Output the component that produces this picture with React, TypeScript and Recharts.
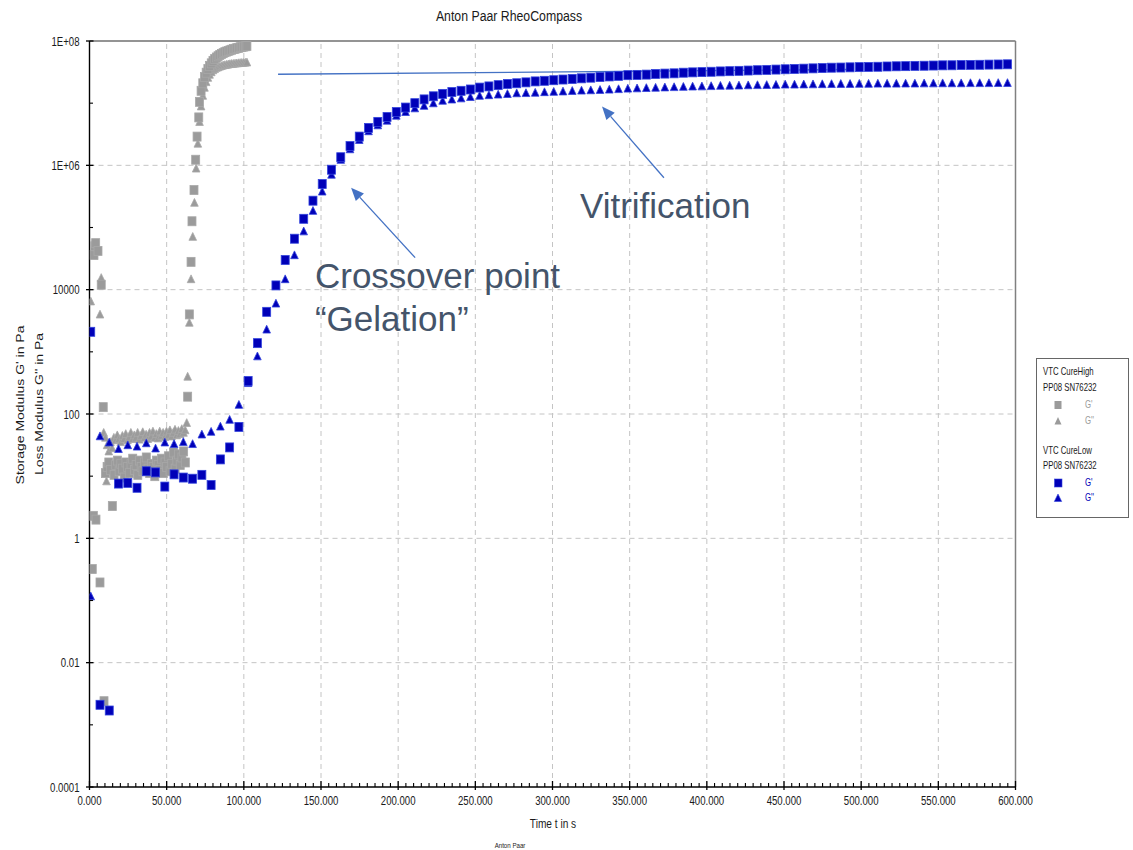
import React from 'react';
import { ScatterChart, Scatter, XAxis, YAxis, ReferenceLine, ReferenceDot } from 'recharts';

const FONT = '"Liberation Sans", Arial, sans-serif';
const BLUE = '#0000b8';
const BLUE_EDGE = '#3344dd';
const GRAY = '#9b9b9b';
const ARROW = '#4472c4';
const NOTE = '#44546a';

// ---- axis ticks ----
const xMajorTicks = [0, 50, 100, 150, 200, 250, 300, 350, 400, 450, 500, 550, 600];
const xTicks = Array.from({ length: 121 }, (_, i) => i * 5);
const yTicks = [1e-4, 1e-3, 1e-2, 1e-1, 1, 10, 100, 1e3, 1e4, 1e5, 1e6, 1e7, 1e8];
const yMajorTicks = [1e-4, 1e-2, 1, 100, 1e4, 1e6, 1e8];
const yTickLabels = ['0.0001', '0.01', '1', '100', '10000', '1E+06', '1E+08'];

// ---- VTC CureLow (blue) ----
const blueTime = [
  0.8, 6.8, 12.8, 18.8, 24.8, 30.8, 36.8, 42.8, 48.8, 54.8,
  60.8, 66.8, 72.8, 78.8, 84.8, 90.8, 96.8, 102.8, 108.8, 114.8,
  120.8, 126.8, 132.8, 138.8, 144.8, 150.8, 156.8, 162.8, 168.8, 174.8,
  180.8, 186.8, 192.8, 198.8, 204.8, 210.8, 216.8, 222.8, 228.8, 234.8,
  240.8, 246.8, 252.8, 258.8, 264.8, 270.8, 276.8, 282.8, 288.8, 294.8,
  300.8, 306.8, 312.8, 318.8, 324.8, 330.8, 336.8, 342.8, 348.8, 354.8,
  360.8, 366.8, 372.8, 378.8, 384.8, 390.8, 396.8, 402.8, 408.8, 414.8,
  420.8, 426.8, 432.8, 438.8, 444.8, 450.8, 456.8, 462.8, 468.8, 474.8,
  480.8, 486.8, 492.8, 498.8, 504.8, 510.8, 516.8, 522.8, 528.8, 534.8,
  540.8, 546.8, 552.8, 558.8, 564.8, 570.8, 576.8, 582.8, 588.8, 594.8,
];
const blueGp = [
  2100, 0.0021, 0.0017, 7.6, 7.8, 6.5, 12, 11.5, 6.8, 10.7,
  9.5, 9.1, 10.5, 7.2, 18.6, 29, 62, 340, 1380, 4400,
  11700, 30000, 66000, 138000, 270000, 500000, 850000, 1.35e6, 2.04e6, 2.9e6,
  4.0e6, 5.0e6, 6.0e6, 7.2e6, 8.5e6, 1.0e7, 1.15e7, 1.29e7, 1.41e7, 1.51e7,
  1.58e7, 1.66e7, 1.78e7, 1.86e7, 1.95e7, 2.04e7, 2.09e7, 2.16e7, 2.24e7, 2.29e7,
  2.34e7, 2.40e7, 2.45e7, 2.51e7, 2.57e7, 2.63e7, 2.69e7, 2.75e7, 2.82e7, 2.85e7,
  2.88e7, 2.95e7, 2.99e7, 3.02e7, 3.09e7, 3.13e7, 3.16e7, 3.20e7, 3.24e7, 3.27e7,
  3.31e7, 3.35e7, 3.39e7, 3.43e7, 3.47e7, 3.51e7, 3.55e7, 3.59e7, 3.63e7, 3.67e7,
  3.72e7, 3.74e7, 3.77e7, 3.80e7, 3.83e7, 3.85e7, 3.89e7, 3.92e7, 3.94e7, 3.98e7,
  4.00e7, 4.03e7, 4.06e7, 4.07e7, 4.10e7, 4.12e7, 4.14e7, 4.17e7, 4.19e7, 4.22e7,
];
const blueGpp = [
  0.117, 44, 35, 27.5, 31.6, 30, 34, 28, 35, 33,
  35.5, 33, 47, 52, 63, 81, 141, 316, 850, 2290,
  6000, 14800, 36000, 87000, 186000, 380000, 710000, 1.23e6, 1.82e6, 2.57e6,
  3.55e6, 4.42e6, 5.25e6, 6.31e6, 7.24e6, 8.3e6, 9.1e6, 1.0e7, 1.10e7, 1.15e7,
  1.20e7, 1.26e7, 1.32e7, 1.35e7, 1.38e7, 1.41e7, 1.45e7, 1.46e7, 1.48e7, 1.51e7,
  1.53e7, 1.55e7, 1.58e7, 1.60e7, 1.62e7, 1.64e7, 1.66e7, 1.69e7, 1.72e7, 1.74e7,
  1.76e7, 1.78e7, 1.80e7, 1.82e7, 1.84e7, 1.86e7, 1.87e7, 1.89e7, 1.91e7, 1.92e7,
  1.93e7, 1.95e7, 1.96e7, 1.97e7, 1.98e7, 2.00e7, 2.00e7, 2.01e7, 2.02e7, 2.03e7,
  2.04e7, 2.05e7, 2.05e7, 2.06e7, 2.06e7, 2.07e7, 2.07e7, 2.07e7, 2.08e7, 2.08e7,
  2.09e7, 2.09e7, 2.10e7, 2.10e7, 2.10e7, 2.11e7, 2.11e7, 2.11e7, 2.12e7, 2.12e7,
];

// ---- VTC CureHigh (gray) ----
const grayGpTime = [
  1.8, 2.5, 2.9, 3.4, 4.0, 4.2, 5.5, 6.8, 7.6, 8.9, 9.4,
  10.3, 11.4, 12.5, 13.6, 14.8, 15.9, 17.0, 18.1, 19.2, 20.3,
  21.4, 22.5, 23.6, 24.7, 25.8, 26.9, 28.0, 29.1, 30.2, 31.3,
  32.4, 33.5, 34.6, 35.7, 36.8, 37.9, 39.0, 40.1, 41.2, 42.3,
  43.4, 44.5, 45.6, 46.7, 47.8, 48.9, 50.0, 51.1, 52.2, 53.3,
  54.4, 55.5, 56.6, 57.7, 58.8, 59.9, 61.0, 62.1,
  63.6, 64.7, 65.8, 66.4, 67.7, 68.8, 69.7, 70.8, 71.3,
  72.3, 73.4, 74.5, 75.6, 76.7, 77.8, 78.9, 80.0, 81.1, 82.2,
  83.3, 84.4, 85.5, 86.6, 87.7, 88.8, 89.9, 91.0, 92.1, 93.2,
  94.3, 95.4, 96.5, 97.6, 98.7, 99.8, 100.9, 102.0,
];
const grayGp = [
  0.32, 2.3, 36000, 50000, 56000, 2.0, 42000, 0.195, 12000, 129, 0.0024,
  11.2, 14.1, 16.6, 12.6, 3.3, 10.5, 15.1, 17.8, 12.0, 15.8,
  13.2, 9.5, 16.6, 14.1, 11.2, 15.8, 19.1, 12.6, 15.1, 10.5,
  17.8, 14.1, 12.0, 16.6, 20, 13.2, 11.2, 15.8, 14.1, 10,
  17.8, 15.1, 12.6, 19.1, 11.2, 16.6, 14.1, 20.9, 12.0, 15.8,
  24, 13.2, 17.8, 22.4, 15.1, 20, 25, 16.6,
  190, 4000, 28000, 126000, 400000, 1.23e6, 2.9e6, 5.9e6, 1.05e7,
  1.58e7, 2.09e7, 2.63e7, 3.09e7, 3.55e7, 3.98e7, 4.37e7, 4.79e7, 5.13e7, 5.43e7,
  5.69e7, 5.96e7, 6.17e7, 6.38e7, 6.61e7, 6.76e7, 6.92e7, 7.08e7, 7.24e7, 7.41e7,
  7.50e7, 7.67e7, 7.76e7, 7.94e7, 8.04e7, 8.13e7, 8.22e7, 8.32e7,
];
const grayGppTime = [
  0.8, 6.8, 7.6, 9.2, 10.3, 11.0, 11.4, 12.5, 13.6, 14.7,
  15.8, 16.9, 18.0, 19.1, 20.2, 21.3, 22.4, 23.5, 24.6, 25.7,
  26.8, 27.9, 29.0, 30.1, 31.2, 32.3, 33.4, 34.5, 35.6, 36.7,
  37.8, 38.9, 40.0, 41.1, 42.2, 43.3, 44.4, 45.5, 46.6, 47.7,
  48.8, 49.9, 51.0, 52.1, 53.2, 54.3, 55.4, 56.5, 57.6, 58.7,
  59.8, 60.9, 62.0, 63.0, 63.6, 64.7, 65.8, 66.9, 68.0, 69.1,
  70.2, 71.3, 72.3, 73.4, 74.5, 75.6, 76.7, 77.8, 78.9, 80.0,
  81.1, 82.2, 83.3, 84.4, 85.5, 86.6, 87.7, 88.8, 89.9, 91.0,
  92.1, 93.2, 94.3, 95.4, 96.5, 97.6, 98.7, 99.8, 100.9, 102.0,
];
const grayGpp = [
  6500, 4000, 15500, 50, 41.7, 8.3, 31.6, 25.1, 35.5, 28.2,
  41.7, 38, 45.7, 39.8, 35.5, 44.7, 39.8, 47.9, 38, 42.7,
  50.1, 39.8, 45.7, 41.7, 50.1, 38.9, 44.7, 51.3, 41.7, 46.8,
  39.8, 50.1, 43.7, 52.5, 41.7, 47.9, 40.7, 52.5, 44.7, 50.1,
  42.7, 52.5, 45.7, 55, 43.7, 50.1, 56.2, 45.7, 53.7, 47.9,
  57.5, 50.1, 55, 72, 400, 2950, 14800, 71000, 251000, 891000,
  2.24e6, 5.0e6, 8.9e6, 1.32e7, 1.78e7, 2.19e7, 2.57e7, 2.88e7, 3.16e7, 3.39e7,
  3.55e7, 3.72e7, 3.80e7, 3.89e7, 3.98e7, 4.07e7, 4.12e7, 4.17e7, 4.22e7, 4.27e7,
  4.30e7, 4.32e7, 4.37e7, 4.39e7, 4.42e7, 4.45e7, 4.47e7, 4.49e7, 4.52e7, 4.54e7,
];

// ---- annotations (data coordinates: time s, modulus Pa) ----
const vitrLine = [{ x: 122.2, y: 2.92e7 }, { x: 493, y: 3.48e7 }];
const gelArrow = [{ x: 211, y: 3.27e4 }, { x: 169.5, y: 4.36e5 }];
const vitrArrow = [{ x: 372.2, y: 6.31e5 }, { x: 332.1, y: 8.81e6 }];
const notes = [
  { x: 146.1, y: 1.08e4, text: 'Crossover point', size: 35 },
  { x: 146.1, y: 2190, text: '\u201cGelation\u201d', size: 35 },
  { x: 317.8, y: 1.44e5, text: 'Vitrification', size: 35 },
];

const toPts = (ts: number[], vs: number[]) => ts.map((t, i) => ({ t, v: vs[i] }));
const blueGpData = toPts(blueTime, blueGp);
const blueGppData = toPts(blueTime, blueGpp);
const grayGpData = toPts(grayGpTime, grayGp);
const grayGppData = toPts(grayGppTime, grayGpp);

const NText = ({ x, y, size, sx = 1, sy = 1, rotate = 0, anchor = 'start', fill = '#1a1a1a', children }: any) => (
  <text
    transform={`translate(${x},${y}) rotate(${rotate}) scale(${sx},${sy})`}
    fontSize={size}
    fontFamily={FONT}
    textAnchor={anchor}
    dominantBaseline="central"
    fill={fill}
  >
    {children}
  </text>
);

const square = (fill: string, stroke: string) => (p: any) => (
  <rect x={p.cx - 4} y={p.cy - 4.5} width={8} height={9} fill={fill} stroke={stroke} strokeWidth={0.8} />
);
const triangle = (fill: string, stroke: string) => (p: any) => (
  <polygon
    points={`${p.cx},${p.cy - 4.2} ${p.cx + 3.8},${p.cy + 3.6} ${p.cx - 3.8},${p.cy + 3.6}`}
    fill={fill}
    stroke={stroke}
    strokeWidth={0.8}
  />
);

const XTick = (p: any) => {
  const v = p.payload.value;
  const x = p.x;
  const y = p.y;
  const major = xMajorTicks.includes(v);
  return (
    <g>
      {major ? (
        <line x1={x} x2={x} y1={y - 6} y2={y + 3} stroke="#000" strokeWidth={1.3} />
      ) : (
        <line x1={x} x2={x} y1={y - 4} y2={y} stroke="#000" strokeWidth={1.1} />
      )}
      {major && (
        <NText x={x} y={y + 13} size={13} sx={0.74} anchor="middle">
          {v.toFixed(3)}
        </NText>
      )}
    </g>
  );
};

const YTick = (p: any) => {
  const v = p.payload.value;
  const x = p.x;
  const y = p.y;
  const idx = yMajorTicks.indexOf(v);
  const major = idx >= 0;
  return (
    <g>
      {major ? (
        <line x1={x - 3.5} x2={x + 4} y1={y} y2={y} stroke="#000" strokeWidth={1.3} />
      ) : (
        <line x1={x} x2={x + 3.5} y1={y} y2={y} stroke="#000" strokeWidth={1.1} />
      )}
      {major && (
        <NText x={x - 10} y={y} size={13} sx={0.74} anchor="end">
          {yTickLabels[idx]}
        </NText>
      )}
    </g>
  );
};

const arrowShape = (p: any) => {
  const { x1, y1, x2, y2 } = p;
  const dx = x2 - x1;
  const dy = y2 - y1;
  const L = Math.hypot(dx, dy) || 1;
  const ux = dx / L;
  const uy = dy / L;
  const len = 13;
  const hw = 5.5;
  const bx = x2 - ux * len;
  const by = y2 - uy * len;
  const pts = `${x2},${y2} ${bx - uy * hw},${by + ux * hw} ${bx + uy * hw},${by - ux * hw}`;
  return (
    <g>
      <line x1={x1} y1={y1} x2={bx} y2={by} stroke={ARROW} strokeWidth={1.3} />
      <polygon points={pts} fill={ARROW} />
    </g>
  );
};

const plainLine = (p: any) => <line x1={p.x1} y1={p.y1} x2={p.x2} y2={p.y2} stroke={ARROW} strokeWidth={1.3} />;

const gridX = [50, 100, 150, 200, 250, 300, 350, 400, 450, 500, 550];
const gridY = [1e-2, 1, 100, 1e4, 1e6];

export default function App() {
  return (
    <div style={{ position: 'absolute', left: 0, top: 0, width: 1133, height: 850, background: '#fff' }}>
      <ScatterChart width={1133} height={850} margin={{ top: 41, right: 117.5, bottom: 0, left: 0 }}>
        <XAxis
          dataKey="t"
          type="number"
          domain={[0, 600]}
          ticks={xTicks}
          interval={0}
          tickSize={0}
          tickMargin={0}
          tickLine={false}
          tick={XTick}
          height={63}
          axisLine={{ stroke: '#000', strokeWidth: 1.4 }}
          allowDataOverflow
        />
        <YAxis
          dataKey="v"
          type="number"
          scale="log"
          domain={[1e-4, 1e8]}
          ticks={yTicks}
          interval={0}
          tickSize={0}
          tickMargin={0}
          tickLine={false}
          tick={YTick}
          width={89.5}
          axisLine={{ stroke: '#000', strokeWidth: 1.4 }}
          allowDataOverflow
        />
        {gridX.map((v) => (
          <ReferenceLine key={'gx' + v} x={v} stroke="#c4c4c4" strokeDasharray="5 4" strokeWidth={1} />
        ))}
        {gridY.map((v) => (
          <ReferenceLine key={'gy' + v} y={v} stroke="#c4c4c4" strokeDasharray="5 4" strokeWidth={1} />
        ))}
        <ReferenceLine y={1e8} stroke="#707070" strokeWidth={1.3} />
        <ReferenceLine x={600} stroke="#808080" strokeWidth={1.5} />
        <Scatter data={grayGppData} shape={triangle(GRAY, '#a8a8a8')} isAnimationActive={false} />
        <Scatter data={grayGpData} shape={square(GRAY, '#a8a8a8')} isAnimationActive={false} />
        <Scatter data={blueGppData} shape={triangle(BLUE, BLUE_EDGE)} isAnimationActive={false} />
        <Scatter data={blueGpData} shape={square(BLUE, BLUE_EDGE)} isAnimationActive={false} />
        <ReferenceLine segment={vitrLine} shape={plainLine} />
        <ReferenceLine segment={gelArrow} shape={arrowShape} />
        <ReferenceLine segment={vitrArrow} shape={arrowShape} />
        {notes.map((n) => (
          <ReferenceDot
            key={n.text}
            x={n.x}
            y={n.y}
            shape={(p: any) => (
              <text x={p.cx} y={p.cy} fontSize={n.size} fontFamily={FONT} fill={NOTE}>
                {n.text}
              </text>
            )}
          />
        ))}
      </ScatterChart>
      <svg width={1133} height={850} style={{ position: 'absolute', left: 0, top: 0, pointerEvents: 'none' }}>
        <NText x={509} y={16} size={15} sx={0.82} anchor="middle">Anton Paar RheoCompass</NText>
        <NText x={553} y={823} size={13} sx={0.78} anchor="middle">{'Time t  in s'}</NText>
        <NText x={510} y={845} size={7} sx={0.88} anchor="middle">Anton Paar</NText>
        <NText x={20.5} y={405} size={14} sy={0.75} rotate={-90} anchor="middle">{"Storage Modulus G'  in Pa"}</NText>
        <NText x={40} y={404} size={14} sy={0.75} rotate={-90} anchor="middle">{"Loss Modulus G''  in Pa"}</NText>
        <rect x={1036.5} y={358.5} width={92} height={159} fill="#fff" stroke="#666" strokeWidth={1} />
        <NText x={1043} y={372} size={10} sx={0.78}>VTC CureHigh</NText>
        <NText x={1043} y={388} size={10} sx={0.78}>PP08 SN76232</NText>
        <rect x={1054.5} y={401} width={7} height={8} fill={GRAY} />
        <polygon points="1058,417 1061.5,424.5 1054.5,424.5" fill={GRAY} />
        <NText x={1085} y={405} size={10} sx={0.78} fill="#9b9b9b">{"G'"}</NText>
        <NText x={1085} y={421} size={10} sx={0.78} fill="#9b9b9b">{"G''"}</NText>
        <NText x={1043} y={451} size={10} sx={0.78}>VTC CureLow</NText>
        <NText x={1043} y={466} size={10} sx={0.78}>PP08 SN76232</NText>
        <rect x={1054.5} y={479} width={7.5} height={8} fill={BLUE} stroke={BLUE_EDGE} strokeWidth={0.6} />
        <polygon points="1058,494 1061.7,501.5 1054.3,501.5" fill={BLUE} stroke={BLUE_EDGE} strokeWidth={0.6} />
        <NText x={1085} y={483} size={10} sx={0.78} fill={BLUE}>{"G'"}</NText>
        <NText x={1085} y={498} size={10} sx={0.78} fill={BLUE}>{"G''"}</NText>
      </svg>
    </div>
  );
}
